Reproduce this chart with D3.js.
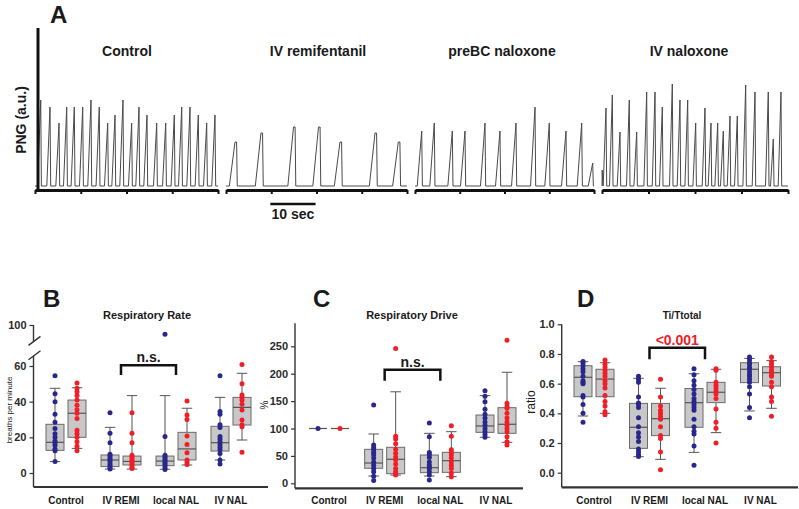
<!DOCTYPE html>
<html><head><meta charset="utf-8">
<script src="https://cdn.jsdelivr.net/npm/d3@7"></script>
<style>
body{margin:0;background:#fff;}
svg{display:block;}
</style></head><body>
<svg id="c" width="799" height="509"></svg>
<script>
// ---------------- Panel A : phrenic neurogram traces ----------------
const traceTitles = ["Control", "IV remifentanil", "preBC naloxone", "IV naloxone"];
const timeTicks = [0, 10, 20, 30, 40];           // seconds per segment
const ctrlPeakTimes = [1.25,3.28,5.25,6.93,8.59,10.43,12.24,14.05,15.89,17.49,19.23,21.13,22.73,24.48,26.6,28.57,30.45,32.07,33.88,35.7,37.53,39.34];
const ctrlPeakAmps  = [86,79,63,79,79,79,86,79,63,71,86,63,79,71,63,63,71,79,79,71,63,71];
const remiPeakTimes = [1.99,7.73,14.92,20.44,25.19,32.93,38.08];
const remiPeakAmps  = [44,53,59,59,44,53,44];
const pbcPeakTimes  = [1.5,4.31,8.34,11.17,15.64,18.99,22.57,26.82,30.01,33.74,37.25,39.71];
const pbcPeakAmps   = [55,63,55,55,63,55,63,79,63,55,63,23];
const ivnPeakTimes  = [0.05,0.86,2.22,3.87,5.87,7.46,9.61,11.4,12.97,15.12,16.77,18.43,20.15,22.15,23.44,24.88,26.09,27.53,29.1,30.9,32.9,35.76,36.84,38.49];
const ivnPeakAmps   = [16,78,91,54,86,54,94,94,79,102,86,86,63,78,63,63,55,70,70,101,94,94,47,94];

// ---------------- Panels B-D : box plots ----------------
const categories = ["Control", "IV REMI", "local NAL", "IV NAL"];
// B: Respiratory rate (breaths per minute)
const rateTicks = [0, 20, 40, 60, 100];
const rateBluePts = [
  [54.5,44.5,40,33,28.5,25,22,20,18,17,15.5,13.5,12.5,6.5],
  [33.8,22.3,17,10.5,9.5,8.5,7.5,6.5,5,4,3,2.2],
  [91,20.4,10,9,8,7,6,5,4,3,2],
  [54.5,34.5,33,27,25.5,20.5,19,17.5,16,14.5,13,11,7.3,5]];
const rateRedPts = [
  [50.5,47.5,45.5,43.5,41,38,35.5,33.5,30.5,24,22,20,17.5,15,12.5],
  [33.8,22.3,17,10,9,8,7,6,5,4,3,2.5],
  [40.4,32.5,30,20.7,16,11.4,7.3,6,4.8],
  [61.5,50,43.7,42.5,41,38.5,35.3,29.7,27,26,11.6]];
// box stats: [p10, q1, median, q3, p90]
const rateBlueBox = [[6.4,12.7,17.2,27.3,47.5],[2.2,3.6,7.3,10.1,25.6],[2.1,4.1,6.7,9.5,43.4],[7.3,12.3,17,26.2,42.4]];
const rateRedBox  = [[13.8,20,33.5,40.9,47.8],[2.2,4.5,6.5,9.5,43.4],[4.5,7.3,13.5,22.8,36.3],[18.5,26.9,36.8,42.4,55.9]];

// C: Respiratory drive (%)
const driveTicks = [0, 50, 100, 150, 200, 250];
const driveBluePts = [
  [100],
  [143,70,65,61,56,52,46,39,33,27,21,13,5],
  [110,85,56,52,47,39,33,29,27,21,15,6],
  [169,159,149,135,126,119,112,106,100,94,89,84]];
const driveRedPts = [
  [100],
  [246,86,81,72,62,55,48,43,35,27,21,17,15],
  [105,86,61,56,52,46,39,33,27,19,12],
  [261,146,141,137,128,119,112,106,100,94,85,76,70]];
const driveBlueBox = [[100,100,100,100,100],[13.3,27.4,37,62,90],[13.3,19.4,28.5,51.6,91.2],[84,93,104.6,124.6,160]];
const driveRedBox  = [[100,100,100,100,100],[15,17.5,43.8,65.7,167],[12.1,20,41.3,56.5,94.2],[74.8,91.2,107.7,138,202.6]];

// D: Ti/Ttotal (ratio)
const ratioTicks = [0, 0.2, 0.4, 0.6, 0.8, 1.0];
const ratioBluePts = [
  [0.75,0.74,0.72,0.70,0.68,0.65,0.62,0.61,0.60,0.52,0.51,0.46,0.40,0.34],
  [0.65,0.63,0.61,0.51,0.47,0.46,0.44,0.37,0.31,0.27,0.24,0.21,0.16,0.14,0.12,0.11],
  [0.70,0.66,0.62,0.59,0.56,0.53,0.50,0.48,0.46,0.44,0.42,0.36,0.31,0.28,0.26,0.18,0.05],
  [0.78,0.76,0.74,0.73,0.71,0.70,0.68,0.66,0.65,0.63,0.61,0.58,0.53,0.44,0.37]];
const ratioRedPts = [
  [0.76,0.73,0.71,0.69,0.67,0.65,0.62,0.60,0.57,0.52,0.48,0.45,0.41,0.39],
  [0.63,0.51,0.45,0.42,0.40,0.38,0.36,0.31,0.25,0.23,0.14,0.02],
  [0.70,0.69,0.61,0.59,0.57,0.55,0.53,0.50,0.43,0.34,0.30,0.20],
  [0.78,0.75,0.73,0.71,0.69,0.68,0.66,0.65,0.61,0.58,0.51,0.48,0.38]];
const ratioBlueBox = [[0.382,0.512,0.643,0.721,0.748],[0.108,0.164,0.306,0.467,0.636],[0.137,0.306,0.472,0.567,0.667],[0.416,0.607,0.697,0.741,0.77]];
const ratioRedBox  = [[0.40,0.512,0.631,0.697,0.741],[0.09,0.25,0.364,0.467,0.569],[0.27,0.472,0.542,0.609,0.697],[0.434,0.584,0.674,0.714,0.755]];

// ---------------- drawing ----------------
const FONT = "Arial, 'Liberation Sans', Helvetica, sans-serif";
const BLUE = "#28288c", RED = "#f21d27", BOXFILL = "#c8c8c8", BOXSTROKE = "#6b6b6b", AXIS = "#333";
const svg = d3.select("#c").style("font-family", FONT);

function txt(x, y, s, size, opts = {}) {
  const t = svg.append("text").attr("x", x).attr("y", y).text(s)
    .attr("font-size", size).attr("font-weight", opts.weight || "bold")
    .attr("fill", opts.fill || "#1a1a1a").attr("text-anchor", opts.anchor || "middle");
  if (opts.rotate) t.attr("transform", `rotate(-90,${x},${y})`);
  return t;
}

// ---- Panel A
const segRanges = [[35,218],[226,407],[415,594],[602,788]];
const titleX = [127, 318, 502, 689];
const yA = d3.scaleLinear().domain([0, 100]).range([186, 86]);
const segs = [
  {t: ctrlPeakTimes, a: ctrlPeakAmps, rise: 0.7, plat: 0},
  {t: remiPeakTimes, a: remiPeakAmps, rise: 1.25, plat: 0.35},
  {t: pbcPeakTimes,  a: pbcPeakAmps,  rise: 1.0, plat: 0},
  {t: ivnPeakTimes,  a: ivnPeakAmps,  rise: 0.6, plat: 0}
];
segs.forEach((s, i) => {
  const x = d3.scaleLinear().domain([0, 40]).range(segRanges[i]);
  const pts = [[0, 0]];
  s.t.forEach((tp, j) => {
    pts.push([tp - s.rise, 0], [tp, s.a[j]], [tp + s.plat, s.a[j]], [tp + s.plat + 0.15, 0]);
  });
  pts.push([40, 0]);
  const cl = pts.map(([t, a]) => [Math.max(0, Math.min(40, t)), a]);
  svg.append("path").datum(cl)
    .attr("d", d3.line().x(d => x(d[0])).y(d => yA(d[1])))
    .attr("fill", "none").attr("stroke", "#4a4a4a").attr("stroke-width", 1);
  const ax = svg.append("g").attr("transform", "translate(0,190)")
    .call(d3.axisBottom(x).tickValues(timeTicks).tickSize(4).tickSizeOuter(0).tickFormat(""));
  ax.select(".domain").attr("stroke", "#111").attr("stroke-width", 3);
  ax.selectAll(".tick line").attr("stroke", "#111").attr("stroke-width", 2);
  txt(titleX[i], 56, traceTitles[i], 14);
  if (i === 1) {
    svg.append("line").attr("x1", x(9.8)).attr("x2", x(19.8)).attr("y1", 204).attr("y2", 204)
      .attr("stroke", "#111").attr("stroke-width", 2.5);
    txt(x(14.8), 219, "10 sec", 14);
  }
});
svg.append("line").attr("x1", 38).attr("x2", 38).attr("y1", 28).attr("y2", 191)
  .attr("stroke", "#111").attr("stroke-width", 3);
txt(26, 120, "PNG (a.u.)", 14, {rotate: true});
txt(50, 23, "A", 24, {anchor: "start"});

// ---- Box panels
function boxPanel(o) {
  const g = svg.append("g");
  const y = o.y;
  g.append("line").attr("x1", o.x0).attr("x2", o.x1).attr("y1", o.axisY).attr("y2", o.axisY)
    .attr("stroke", AXIS).attr("stroke-width", 2.2);
  const ga = g.append("g").attr("transform", `translate(${o.x0},0)`)
    .call(d3.axisLeft(y).tickValues(o.ticks).tickSize(4).tickPadding(3).tickFormat(o.fmt));
  ga.select(".domain").remove();
  ga.selectAll("line").attr("stroke", AXIS).attr("stroke-width", 1.2);
  ga.selectAll("text").attr("font-size", 11).attr("font-weight", "bold").attr("fill", "#2a2a2a")
    .attr("font-family", FONT);
  if (o.brk) {
    g.append("line").attr("x1", o.x0).attr("x2", o.x0).attr("y1", y(o.top)).attr("y2", y(o.brk[1]))
      .attr("stroke", AXIS).attr("stroke-width", 1.4);
    g.append("line").attr("x1", o.x0).attr("x2", o.x0).attr("y1", y(o.brk[0])).attr("y2", o.axisY)
      .attr("stroke", AXIS).attr("stroke-width", 1.4);
    o.brk.forEach(v => {
      g.append("line").attr("x1", o.x0 - 5).attr("x2", o.x0 + 7).attr("y1", y(v) + 4).attr("y2", y(v) - 5)
        .attr("stroke", AXIS).attr("stroke-width", 1.4);
    });
  } else {
    g.append("line").attr("x1", o.x0).attr("x2", o.x0).attr("y1", y(o.top)).attr("y2", o.axisY)
      .attr("stroke", AXIS).attr("stroke-width", 1.4);
  }
  const xp = d3.scalePoint().domain(categories).range(o.xr);
  const bw = 18, cw = 10.5;
  [[o.blueBox, o.bluePts, -11, BLUE], [o.redBox, o.redPts, 11, RED]].forEach(([bx, pts, off, col]) => {
    categories.forEach((c, i) => {
      const cx = xp(c) + off;
      const [p10, q1, med, q3, p90] = bx[i];
      const wl = (a, b) => g.append("line").attr("x1", cx).attr("x2", cx).attr("y1", y(a)).attr("y2", y(b))
        .attr("stroke", "#555").attr("stroke-width", 1);
      wl(p90, q3); wl(q1, p10);
      [p10, p90].forEach(v => {
        if (v !== q1 && v !== q3)
          g.append("line").attr("x1", cx - cw / 2).attr("x2", cx + cw / 2).attr("y1", y(v)).attr("y2", y(v))
            .attr("stroke", "#555").attr("stroke-width", 1);
      });
      g.append("rect").attr("x", cx - bw / 2).attr("width", bw).attr("y", y(q3)).attr("height", Math.max(0, y(q1) - y(q3)))
        .attr("fill", BOXFILL).attr("stroke", BOXSTROKE).attr("stroke-width", 1);
      g.append("line").attr("x1", cx - bw / 2).attr("x2", cx + bw / 2).attr("y1", y(med)).attr("y2", y(med))
        .attr("stroke", "#555").attr("stroke-width", 1.2);
      g.selectAll(null).data(pts[i]).enter().append("circle")
        .attr("cx", cx).attr("cy", d => y(d)).attr("r", 2.5).attr("fill", col);
    });
  });
  categories.forEach(c => txt(xp(c), 504, c, 10));
  const bx1 = xp(categories[1]), bx2 = xp(categories[2]);
  g.append("path").attr("d", `M${bx1},${y(o.br[0])}V${y(o.br[1])}H${bx2}V${y(o.br[0])}`)
    .attr("fill", "none").attr("stroke", "#111").attr("stroke-width", 2.5);
  txt((bx1 + bx2) / 2, y(o.br[1]) - 3, o.sig, 14, {fill: o.sigFill || "#1a1a1a"});
  txt(o.titleX, 319, o.title, o.titleSize);
  txt(o.letterX, 307, o.letter, 24, {anchor: "start"});
}

boxPanel({
  y: d3.scaleLinear().domain([0, 60, 100]).range([473, 366, 325]),
  ticks: rateTicks, fmt: d3.format("d"), top: 100, brk: [70, 84],
  x0: 33.5, x1: 268, axisY: 487, xr: [66, 231],
  bluePts: rateBluePts, redPts: rateRedPts, blueBox: rateBlueBox, redBox: rateRedBox,
  br: [55, 60.7], sig: "n.s.", title: "Respiratory Rate", titleX: 147, titleSize: 11, letter: "B", letterX: 43
});
boxPanel({
  y: d3.scaleLinear().domain([0, 250]).range([483.3, 346.3]),
  ticks: driveTicks, fmt: d3.format("d"), top: 292,
  x0: 295, x1: 523, axisY: 488.3, xr: [329, 496],
  bluePts: driveBluePts, redPts: driveRedPts, blueBox: driveBlueBox, redBox: driveRedBox,
  br: [187, 207], sig: "n.s.", title: "Respiratory Drive", titleX: 412, titleSize: 11, letter: "C", letterX: 313
});
boxPanel({
  y: d3.scaleLinear().domain([0, 1]).range([472.7, 324.3]),
  ticks: ratioTicks, fmt: d3.format(".1f"), top: 1.0,
  x0: 561.7, x1: 798, axisY: 487.3, xr: [594, 760.5],
  bluePts: ratioBluePts, redPts: ratioRedPts, blueBox: ratioBlueBox, redBox: ratioRedBox,
  br: [0.765, 0.842], sig: "<0.001", sigFill: "#f21d27", title: "Ti/Ttotal", titleX: 682, titleSize: 10, letter: "D", letterX: 577
});

txt(11.5, 410, "breaths per minute", 8, {weight: "normal", rotate: true});
txt(268, 405, "%", 10, {weight: "normal", rotate: true});
txt(535, 402, "ratio", 12, {weight: "normal", rotate: true});
</script>
</body></html>
